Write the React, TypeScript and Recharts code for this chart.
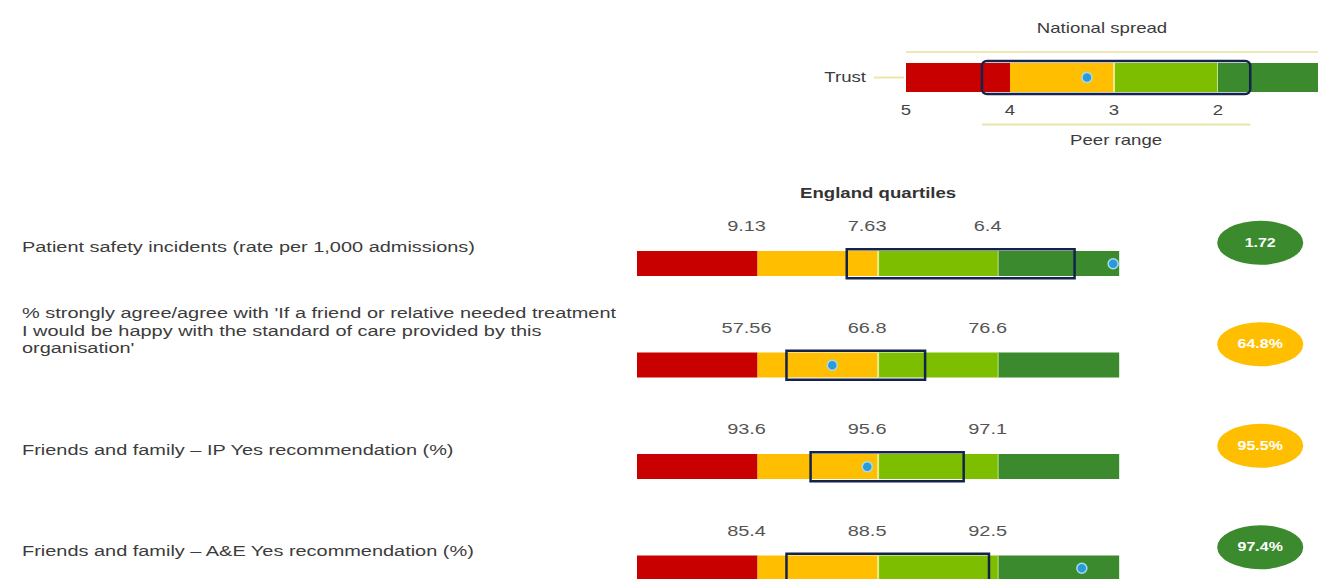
import React from "react";
import { Bar, ComposedChart, ReferenceDot, ReferenceLine, XAxis, YAxis } from "recharts";

// rows of the scorecard
const rowKeys = ["psi", "staff-fft", "ip-fft", "ae-fft"];
const rowLabels = [
  ["Patient safety incidents (rate per 1,000 admissions)"],
  [
    "% strongly agree/agree with 'If a friend or relative needed treatment",
    "I would be happy with the standard of care provided by this",
    "organisation'",
  ],
  ["Friends and family – IP Yes recommendation (%)"],
  ["Friends and family – A&E Yes recommendation (%)"],
];
const quartileLabels = [
  ["9.13", "7.63", "6.4"],
  ["57.56", "66.8", "76.6"],
  ["93.6", "95.6", "97.1"],
  ["85.4", "88.5", "92.5"],
];
// each quartile band is one unit wide on the scale
const bandWidths = [1, 1, 1, 1];
// peer range and trust marker, read on the 0..4 quartile scale
const peerLow = [1.74, 1.24, 1.44, 1.24];
const peerHigh = [3.63, 2.39, 2.71, 2.92];
const trustPos = [3.95, 1.62, 1.91, 3.69];
const trustValues = ["1.72", "64.8%", "95.5%", "97.4%"];
const trustBand = ["dark", "yellow", "yellow", "dark"];

// key at the top
const keyTicks = ["5", "4", "3", "2", "1"];
const keyPeer = [0.73, 3.31];
const keyTrust = 1.74;

const RED = "#c90000";
const YELLOW = "#ffbf00";
const LIGHT = "#7dbf00";
const DARK = "#3b8a2e";
const NAVY = "#14234c";
const FONT = "'Liberation Sans', Arial, sans-serif";
const SX = 1.33; // the source image is stretched sideways

const rows = rowKeys.map((name) => ({
  name,
  s1: bandWidths[0],
  s2: bandWidths[1],
  s3: bandWidths[2],
  s4: bandWidths[3],
}));
const keyData = [{ name: "Trust", s1: bandWidths[0], s2: bandWidths[1], s3: bandWidths[2], s4: bandWidths[3] }];

const SText = ({ x, y, anchor = "start", size = 15, weight = "normal", fill = "#3c3c3c", children }: any) => (
  <text
    transform={`translate(${x},${y}) scale(${SX},1)`}
    textAnchor={anchor}
    dominantBaseline="central"
    fontFamily={FONT}
    fontSize={size}
    fontWeight={weight}
    fill={fill}
  >
    {children}
  </text>
);

const LightSeg = (p: any) => (
  <g>
    <rect x={p.x} y={p.y} width={p.width} height={p.height} fill={LIGHT} />
    <rect x={p.x - 1} y={p.y} width={2} height={p.height} fill="#e8ec8c" />
    <rect x={p.x + p.width - 1} y={p.y} width={2} height={p.height} fill="#c3e28c" />
  </g>
);

const RowLabel = (props: any) => {
  const i = rowKeys.indexOf(props.payload.value);
  const lines = rowLabels[i] || [];
  const last = props.y - 17;
  return (
    <g>
      {lines.map((l, j) => (
        <SText key={j} x={22} y={last - (lines.length - 1 - j) * 17.5}>
          {l}
        </SText>
      ))}
    </g>
  );
};

// peer range box, drawn from a segment along the row centre
const PeerBox = (p: any) => (
  <rect x={p.x1} y={p.y1 - 14.5} width={p.x2 - p.x1} height={29} fill="none" stroke={NAVY} strokeWidth={2.5} />
);

const TrustTick = (p: any) => (
  <g>
    <SText x={866} y={p.y - 1} anchor="end" size={14}>
      {p.payload.value}
    </SText>
    <line x1={874} x2={904} y1={p.y} y2={p.y} stroke="#ece7a8" strokeWidth={2} />
  </g>
);

const KeyTick = (p: any) => (
  <SText x={p.x} y={p.y + 15} anchor="middle" size={14} fill="#444">
    {keyTicks[p.payload.value]}
  </SText>
);

const KeyPeer = (p: any) => (
  <g>
    <rect x={p.x1} y={p.y1 - 16.5} width={p.x2 - p.x1} height={33} rx={5} fill="none" stroke={NAVY} strokeWidth={2.5} />
    <line x1={p.x1} x2={p.x2} y1={p.y1 + 47} y2={p.y1 + 47} stroke="#e6e4a6" strokeWidth={2} />
    <SText x={(p.x1 + p.x2) / 2} y={p.y1 + 62} anchor="middle" size={14}>
      Peer range
    </SText>
  </g>
);

const KeySpread = (p: any) => (
  <g>
    <line x1={p.x1} x2={p.x2} y1={p.y1 - 25.5} y2={p.y1 - 25.5} stroke="#ece9b4" strokeWidth={2} />
    <SText x={(p.x1 + p.x2) / 2 - 12} y={p.y1 - 50} anchor="middle" size={14}>
      National spread
    </SText>
  </g>
);

export default function App() {
  return (
    <div style={{ position: "fixed", left: 0, top: 0, width: 1318, height: 579, overflow: "hidden", background: "#fff" }}>
      <div style={{ position: "absolute", left: 0, top: 0 }}>
        <ComposedChart width={1330} height={160} data={keyData} layout="vertical" margin={{ top: 62, right: 8, bottom: 0, left: 0 }}>
          <XAxis type="number" domain={[0, 4]} ticks={[0, 1, 2, 3, 4]} interval={0} axisLine={false} tickLine={false} tickSize={0} height={67} tick={KeyTick} />
          <YAxis type="category" dataKey="name" width={906} axisLine={false} tickLine={false} tick={TrustTick} />
          <Bar dataKey="s1" stackId="k" fill={RED} barSize={29} isAnimationActive={false} />
          <Bar dataKey="s2" stackId="k" fill={YELLOW} barSize={29} isAnimationActive={false} />
          <Bar dataKey="s3" stackId="k" fill={LIGHT} barSize={29} shape={LightSeg} isAnimationActive={false} />
          <Bar dataKey="s4" stackId="k" fill={DARK} barSize={29} isAnimationActive={false} />
          <ReferenceLine segment={[{ x: 0, y: "Trust" }, { x: 4, y: "Trust" }]} shape={KeySpread} />
          <ReferenceLine segment={[{ x: keyPeer[0], y: "Trust" }, { x: keyPeer[1], y: "Trust" }]} shape={KeyPeer} />
          <ReferenceDot x={keyTrust} y="Trust" r={5} fill="#2a9bd8" stroke="#a6dbf2" strokeWidth={1.5} />
        </ComposedChart>
      </div>
      <div style={{ position: "absolute", left: 0, top: 0 }}>
        <ComposedChart width={1318} height={619} data={rows} layout="vertical" margin={{ top: 213, right: 18, bottom: 0, left: 0 }}>
          <XAxis type="number" domain={[0, 5.5]} hide />
          <YAxis type="category" dataKey="name" width={637} axisLine={false} tickLine={false} tick={RowLabel} />
          <Bar dataKey="s1" stackId="q" fill={RED} barSize={25} isAnimationActive={false} />
          <Bar dataKey="s2" stackId="q" fill={YELLOW} barSize={25} isAnimationActive={false} />
          <Bar dataKey="s3" stackId="q" fill={LIGHT} barSize={25} shape={LightSeg} isAnimationActive={false} />
          <Bar dataKey="s4" stackId="q" fill={DARK} barSize={25} isAnimationActive={false} />
          <ReferenceDot
            x={2}
            y={rowKeys[0]}
            r={1}
            shape={(p: any) => (
              <SText x={p.cx} y={p.cy - 71} anchor="middle" size={14} weight="bold" fill="#333">
                England quartiles
              </SText>
            )}
          />
          {rowKeys.map((k, i) => (
            <ReferenceLine key={"p" + k} segment={[{ x: peerLow[i], y: k }, { x: peerHigh[i], y: k }]} shape={PeerBox} />
          ))}
          {rowKeys.map((k, i) => (
            <ReferenceDot key={"t" + k} x={trustPos[i]} y={k} r={5} fill="#2a9bd8" stroke="#a6dbf2" strokeWidth={1.5} />
          ))}
          {rowKeys.map((k, i) =>
            quartileLabels[i].map((q, j) => (
              <ReferenceDot
                key={"q" + k + j}
                x={j + 1}
                y={k}
                r={1}
                shape={(p: any) => (
                  <SText x={p.cx - 11} y={p.cy - 37.5} anchor="middle" size={15} fill="#555">
                    {q}
                  </SText>
                )}
              />
            ))
          )}
          {rowKeys.map((k, i) => (
            <ReferenceDot
              key={"o" + k}
              x={5.17}
              y={k}
              r={1}
              shape={(p: any) => (
                <g>
                  <ellipse cx={p.cx} cy={p.cy - 21} rx={43} ry={22} fill={trustBand[i] === "dark" ? DARK : YELLOW} />
                  <SText x={p.cx} y={p.cy - 21} anchor="middle" size={12} weight="bold" fill="#fff">
                    {trustValues[i]}
                  </SText>
                </g>
              )}
            />
          ))}
        </ComposedChart>
      </div>
    </div>
  );
}
